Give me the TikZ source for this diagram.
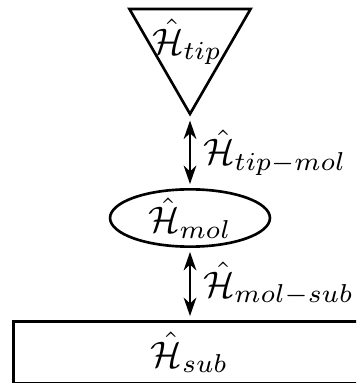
\documentclass[tikz,border=0pt]{standalone}
\usetikzlibrary{shapes.geometric,arrows.meta}
\newcommand{\bigmath}[1]{\scalebox{1.4}{$#1$}}
\begin{document}
\begin{tikzpicture}[x=0.379pt,y=-0.379pt,
  shapeline/.style={draw=black,line width=1pt,inner sep=0pt},
  link/.style={{Stealth[length=7pt,width=4.8pt,inset=2.2pt]}-{Stealth[length=7pt,width=4.8pt,inset=2.2pt]},line width=1pt,shorten <=1.5pt,shorten >=1.5pt},
  lbl/.style={right,inner sep=4.5pt}]
\useasboundingbox (0,0) rectangle (356,383);
\clip (0,0) rectangle (356,383);
\node[shapeline,regular polygon,regular polygon sides=3,shape border rotate=180,minimum size=53pt] (tip) at (190,44) {};
\node (tiptext) at (187,42) {\bigmath{\hat{\mathcal{H}}_{tip}}};
\node[shapeline,ellipse,minimum width=60.6pt,minimum height=18.2pt] (mol) at (190,218) {\bigmath{\hat{\mathcal{H}}_{mol}}};
\node[shapeline,rectangle,minimum width=133.7pt,minimum height=23.6pt] (sub) at (189.6,352.5) {\bigmath{\hat{\mathcal{H}}_{sub}}};
\draw[link] (tip.corner 1) -- node[lbl] (l1) {\bigmath{\hat{\mathcal{H}}_{tip-mol}}} (mol.north);
\draw[link] (mol.south) -- node[lbl] (l2) {\bigmath{\hat{\mathcal{H}}_{mol-sub}}} (sub.north -| mol.south);
\end{tikzpicture}
\end{document}
